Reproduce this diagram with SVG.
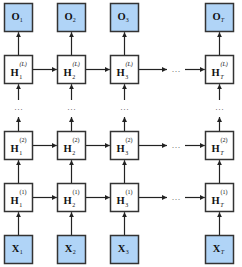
<svg xmlns="http://www.w3.org/2000/svg" width="242" height="267" viewBox="0 0 242 267">
<style>
.b{fill:#ffffff;stroke:#333;stroke-width:1.5}
.io{fill:#b0d4f7;stroke:#333;stroke-width:1.5}
.m{font-family:"Liberation Serif",serif;font-weight:bold;font-size:10.5px;fill:#111}
.s{font-family:"Liberation Serif",serif;font-size:6px;fill:#111}
.i{font-style:italic}
.d{font-family:"Liberation Serif",serif;font-size:9px;fill:#555}
.c line{stroke:#222;stroke-width:1.2;marker-end:url(#ah)}
</style>
<defs>
<marker id="ah" viewBox="0 0 6 6" refX="6" refY="3" markerWidth="5" markerHeight="5" markerUnits="userSpaceOnUse" orient="auto">
<path d="M0,0L6,3L0,6z" fill="#222"/>
</marker>
</defs>
<rect width="242" height="267" fill="#ffffff"/>
<g class="c" id="connectors">
<line x1="18.5" y1="55.5" x2="18.5" y2="32.2"/>
<line x1="71.5" y1="55.5" x2="71.5" y2="32.2"/>
<line x1="124.5" y1="55.5" x2="124.5" y2="32.2"/>
<line x1="219.5" y1="55.5" x2="219.5" y2="32.2"/>
<line x1="18.5" y1="100" x2="18.5" y2="84.2"/>
<line x1="71.5" y1="100" x2="71.5" y2="84.2"/>
<line x1="124.5" y1="100" x2="124.5" y2="84.2"/>
<line x1="219.5" y1="100" x2="219.5" y2="84.2"/>
<line x1="18.5" y1="131.5" x2="18.5" y2="117"/>
<line x1="71.5" y1="131.5" x2="71.5" y2="117"/>
<line x1="124.5" y1="131.5" x2="124.5" y2="117"/>
<line x1="219.5" y1="131.5" x2="219.5" y2="117"/>
<line x1="18.5" y1="183.5" x2="18.5" y2="160.2"/>
<line x1="71.5" y1="183.5" x2="71.5" y2="160.2"/>
<line x1="124.5" y1="183.5" x2="124.5" y2="160.2"/>
<line x1="219.5" y1="183.5" x2="219.5" y2="160.2"/>
<line x1="18.5" y1="235.5" x2="18.5" y2="212.2"/>
<line x1="71.5" y1="235.5" x2="71.5" y2="212.2"/>
<line x1="124.5" y1="235.5" x2="124.5" y2="212.2"/>
<line x1="219.5" y1="235.5" x2="219.5" y2="212.2"/>
<line x1="32.5" y1="69.5" x2="56.8" y2="69.5"/>
<line x1="85.5" y1="69.5" x2="109.8" y2="69.5"/>
<line x1="138.5" y1="69.5" x2="167" y2="69.5"/>
<line x1="185" y1="69.5" x2="204.8" y2="69.5"/>
<line x1="32.5" y1="145.5" x2="56.8" y2="145.5"/>
<line x1="85.5" y1="145.5" x2="109.8" y2="145.5"/>
<line x1="138.5" y1="145.5" x2="167" y2="145.5"/>
<line x1="185" y1="145.5" x2="204.8" y2="145.5"/>
<line x1="32.5" y1="197.5" x2="56.8" y2="197.5"/>
<line x1="85.5" y1="197.5" x2="109.8" y2="197.5"/>
<line x1="138.5" y1="197.5" x2="167" y2="197.5"/>
<line x1="185" y1="197.5" x2="204.8" y2="197.5"/>
</g>
<g id="dots">
<text class="d" x="176" y="72" text-anchor="middle">…</text>
<text class="d" x="176" y="148" text-anchor="middle">…</text>
<text class="d" x="176" y="200" text-anchor="middle">…</text>
<text class="d" x="18.5" y="110" text-anchor="middle">…</text>
<text class="d" x="71.5" y="110" text-anchor="middle">…</text>
<text class="d" x="124.5" y="110" text-anchor="middle">…</text>
<text class="d" x="219.5" y="110" text-anchor="middle">…</text>
</g>
<g id="O1"><rect class="io" x="4.5" y="3.5" width="28" height="28"/><text class="m" x="11.5" y="20">O</text><text class="s" x="19.8" y="22">1</text></g>
<g id="O2"><rect class="io" x="57.5" y="3.5" width="28" height="28"/><text class="m" x="64.5" y="20">O</text><text class="s" x="72.8" y="22">2</text></g>
<g id="O3"><rect class="io" x="110.5" y="3.5" width="28" height="28"/><text class="m" x="117.5" y="20">O</text><text class="s" x="125.8" y="22">3</text></g>
<g id="OT"><rect class="io" x="205.5" y="3.5" width="28" height="28"/><text class="m" x="212.5" y="20">O</text><text class="s i" x="220.8" y="22">T</text></g>
<g id="HL1"><rect class="b" x="4.5" y="55.5" width="28" height="28"/><text class="m" x="10.5" y="75.5">H</text><text class="s" x="19.3" y="78.5">1</text><text class="s i" x="19.5" y="65.5">(L)</text></g>
<g id="HL2"><rect class="b" x="57.5" y="55.5" width="28" height="28"/><text class="m" x="63.5" y="75.5">H</text><text class="s" x="72.3" y="78.5">2</text><text class="s i" x="72.5" y="65.5">(L)</text></g>
<g id="HL3"><rect class="b" x="110.5" y="55.5" width="28" height="28"/><text class="m" x="116.5" y="75.5">H</text><text class="s" x="125.3" y="78.5">3</text><text class="s i" x="125.5" y="65.5">(L)</text></g>
<g id="HLT"><rect class="b" x="205.5" y="55.5" width="28" height="28"/><text class="m" x="211.5" y="75.5">H</text><text class="s i" x="220.3" y="78.5">T</text><text class="s i" x="220.5" y="65.5">(L)</text></g>
<g id="H21"><rect class="b" x="4.5" y="131.5" width="28" height="28"/><text class="m" x="10.5" y="151.5">H</text><text class="s" x="19.3" y="154.5">1</text><text class="s" x="19.5" y="141.5">(2)</text></g>
<g id="H22"><rect class="b" x="57.5" y="131.5" width="28" height="28"/><text class="m" x="63.5" y="151.5">H</text><text class="s" x="72.3" y="154.5">2</text><text class="s" x="72.5" y="141.5">(2)</text></g>
<g id="H23"><rect class="b" x="110.5" y="131.5" width="28" height="28"/><text class="m" x="116.5" y="151.5">H</text><text class="s" x="125.3" y="154.5">3</text><text class="s" x="125.5" y="141.5">(2)</text></g>
<g id="H2T"><rect class="b" x="205.5" y="131.5" width="28" height="28"/><text class="m" x="211.5" y="151.5">H</text><text class="s i" x="220.3" y="154.5">T</text><text class="s" x="220.5" y="141.5">(2)</text></g>
<g id="H11"><rect class="b" x="4.5" y="183.5" width="28" height="28"/><text class="m" x="10.5" y="203.5">H</text><text class="s" x="19.3" y="206.5">1</text><text class="s" x="19.5" y="193.5">(1)</text></g>
<g id="H12"><rect class="b" x="57.5" y="183.5" width="28" height="28"/><text class="m" x="63.5" y="203.5">H</text><text class="s" x="72.3" y="206.5">2</text><text class="s" x="72.5" y="193.5">(1)</text></g>
<g id="H13"><rect class="b" x="110.5" y="183.5" width="28" height="28"/><text class="m" x="116.5" y="203.5">H</text><text class="s" x="125.3" y="206.5">3</text><text class="s" x="125.5" y="193.5">(1)</text></g>
<g id="H1T"><rect class="b" x="205.5" y="183.5" width="28" height="28"/><text class="m" x="211.5" y="203.5">H</text><text class="s i" x="220.3" y="206.5">T</text><text class="s" x="220.5" y="193.5">(1)</text></g>
<g id="X1"><rect class="io" x="4.5" y="235.5" width="28" height="28"/><text class="m" x="11.8" y="252">X</text><text class="s" x="19.8" y="254">1</text></g>
<g id="X2"><rect class="io" x="57.5" y="235.5" width="28" height="28"/><text class="m" x="64.8" y="252">X</text><text class="s" x="72.8" y="254">2</text></g>
<g id="X3"><rect class="io" x="110.5" y="235.5" width="28" height="28"/><text class="m" x="117.8" y="252">X</text><text class="s" x="125.8" y="254">3</text></g>
<g id="XT"><rect class="io" x="205.5" y="235.5" width="28" height="28"/><text class="m" x="212.8" y="252">X</text><text class="s i" x="220.8" y="254">T</text></g>
</svg>
